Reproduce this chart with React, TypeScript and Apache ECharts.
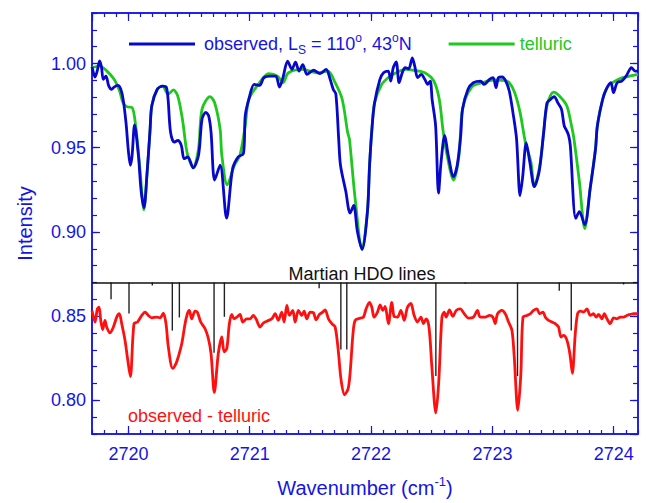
import React, { useEffect, useRef } from "react";
import * as echarts from "echarts";

// Wavenumber (cm-1), intensity
const observed: number[][] = [
  [2719.7, 0.998], [2719.725, 0.992], [2719.741, 0.995], [2719.763, 1.0015], [2719.778, 0.998], [2719.793, 0.9906],
  [2719.815, 0.9925], [2719.838, 0.9867], [2719.862, 0.9847], [2719.882, 0.986], [2719.912, 0.987], [2719.936, 0.985],
  [2719.956, 0.979], [2719.98, 0.965], [2720.0, 0.948], [2720.016, 0.9396], [2720.03, 0.945], [2720.051, 0.9635],
  [2720.083, 0.945], [2720.104, 0.925], [2720.128, 0.9145], [2720.154, 0.935], [2720.178, 0.96], [2720.193, 0.975],
  [2720.238, 0.9847], [2720.282, 0.9866], [2720.312, 0.986], [2720.327, 0.9788], [2720.347, 0.9594], [2720.377, 0.9533],
  [2720.407, 0.9543], [2720.436, 0.9514], [2720.459, 0.9435], [2720.489, 0.9445], [2720.534, 0.938], [2720.578, 0.9455],
  [2720.607, 0.967], [2720.638, 0.971], [2720.661, 0.969], [2720.681, 0.9594], [2720.711, 0.9308], [2720.756, 0.9396],
  [2720.809, 0.9082], [2720.859, 0.9376], [2720.904, 0.9445], [2720.948, 0.9465], [2720.963, 0.969], [2720.993, 0.9788],
  [2721.037, 0.9876], [2721.081, 0.987], [2721.117, 0.9916], [2721.17, 0.9925], [2721.215, 0.9925], [2721.245, 0.986],
  [2721.274, 0.9916], [2721.312, 1.0014], [2721.348, 0.9965], [2721.377, 1.0008], [2721.407, 0.9955], [2721.437, 0.9994],
  [2721.472, 0.9935], [2721.526, 0.996], [2721.579, 0.994], [2721.63, 0.9965], [2721.659, 0.9916], [2721.688, 0.9847],
  [2721.71, 0.9818], [2721.733, 0.9553], [2721.748, 0.9396], [2721.792, 0.924], [2721.827, 0.9112], [2721.857, 0.9157],
  [2721.887, 0.9004], [2721.926, 0.8896], [2721.97, 0.912], [2721.988, 0.94], [2722.009, 0.963], [2722.029, 0.9767],
  [2722.073, 0.9906], [2722.103, 0.9945], [2722.142, 0.9955], [2722.162, 0.9896], [2722.183, 0.9975], [2722.207, 1.001],
  [2722.231, 0.9886], [2722.257, 0.9945], [2722.281, 0.9975], [2722.31, 0.9969], [2722.34, 1.0034], [2722.36, 0.9984],
  [2722.384, 0.9916], [2722.414, 0.9935], [2722.443, 0.9906], [2722.467, 0.9876], [2722.488, 0.9896], [2722.503, 0.9788],
  [2722.532, 0.963], [2722.556, 0.923], [2722.577, 0.9416], [2722.607, 0.9573], [2722.636, 0.9455], [2722.68, 0.9328],
  [2722.71, 0.9396], [2722.739, 0.9573], [2722.754, 0.973], [2722.799, 0.9847], [2722.843, 0.9886], [2722.903, 0.9896],
  [2722.932, 0.9876], [2722.976, 0.9906], [2723.006, 0.9916], [2723.03, 0.9857], [2723.05, 0.9916], [2723.08, 0.992],
  [2723.11, 0.9896], [2723.139, 0.9837], [2723.169, 0.971], [2723.199, 0.9553], [2723.228, 0.9216], [2723.249, 0.9323],
  [2723.279, 0.9529], [2723.308, 0.9416], [2723.346, 0.9269], [2723.385, 0.9357], [2723.421, 0.958], [2723.45, 0.9767],
  [2723.48, 0.9788], [2723.51, 0.9804], [2723.539, 0.9767], [2723.569, 0.9729], [2723.592, 0.963], [2723.613, 0.96],
  [2723.628, 0.9573], [2723.642, 0.9514], [2723.687, 0.908], [2723.717, 0.912], [2723.761, 0.9043], [2723.806, 0.9259],
  [2723.85, 0.9494], [2723.865, 0.963], [2723.909, 0.9788], [2723.938, 0.9847], [2723.977, 0.9886], [2723.998, 0.9827],
  [2724.028, 0.9886], [2724.066, 0.9896], [2724.102, 0.9925], [2724.146, 0.9975], [2724.176, 0.9955], [2724.2, 0.9955],
];

const telluric: number[][] = [
  [2719.7, 0.9975], [2719.763, 0.9984], [2719.823, 0.9955], [2719.882, 0.9906], [2719.927, 0.9837], [2719.956, 0.9767],
  [2719.986, 0.9744], [2720.031, 0.9738], [2720.06, 0.963], [2720.092, 0.94], [2720.128, 0.9131], [2720.154, 0.935],
  [2720.178, 0.96], [2720.193, 0.975], [2720.238, 0.9847], [2720.282, 0.9866], [2720.327, 0.9818], [2720.371, 0.9843],
  [2720.407, 0.9806], [2720.445, 0.967], [2720.474, 0.951], [2720.489, 0.9455], [2720.534, 0.938], [2720.578, 0.9494],
  [2720.607, 0.9729], [2720.673, 0.9804], [2720.711, 0.9767], [2720.756, 0.961], [2720.77, 0.9455], [2720.815, 0.928],
  [2720.874, 0.9396], [2720.919, 0.9455], [2720.963, 0.963], [2720.993, 0.9788], [2721.081, 0.9886], [2721.155, 0.994],
  [2721.23, 0.9925], [2721.274, 0.9886], [2721.319, 0.9945], [2721.437, 0.9965], [2721.555, 0.9945], [2721.644, 0.9955],
  [2721.704, 0.9886], [2721.762, 0.9788], [2721.807, 0.959], [2721.822, 0.955], [2721.866, 0.9216], [2721.926, 0.8896],
  [2721.97, 0.912], [2721.988, 0.94], [2722.009, 0.963], [2722.029, 0.9767], [2722.088, 0.9876], [2722.148, 0.992],
  [2722.207, 0.9945], [2722.281, 0.9965], [2722.354, 0.996], [2722.443, 0.9945], [2722.517, 0.9896], [2722.562, 0.9788],
  [2722.592, 0.961], [2722.621, 0.9475], [2722.68, 0.9308], [2722.725, 0.9455], [2722.754, 0.973], [2722.829, 0.986],
  [2722.918, 0.9886], [2723.006, 0.9902], [2723.095, 0.99], [2723.139, 0.9886], [2723.184, 0.9827], [2723.228, 0.971],
  [2723.272, 0.9532], [2723.317, 0.9416], [2723.346, 0.9269], [2723.391, 0.9396], [2723.421, 0.958], [2723.45, 0.9749],
  [2723.504, 0.983], [2723.554, 0.9806], [2723.613, 0.9749], [2723.652, 0.963], [2723.672, 0.9553], [2723.717, 0.9298],
  [2723.761, 0.902], [2723.806, 0.9259], [2723.85, 0.9494], [2723.865, 0.963], [2723.909, 0.9788], [2723.953, 0.9866],
  [2724.013, 0.9896], [2724.072, 0.9916], [2724.129, 0.9925], [2724.2, 0.9935],
];

const residual: number[][] = [
  [2719.7, 0.8534], [2719.725, 0.8465], [2719.744, 0.8543], [2719.758, 0.8553], [2719.772, 0.8475], [2719.788, 0.842],
  [2719.807, 0.8475], [2719.821, 0.8435], [2719.848, 0.84], [2719.876, 0.8435], [2719.904, 0.8494], [2719.925, 0.8514],
  [2719.945, 0.8455], [2719.972, 0.8357], [2719.991, 0.8259], [2720.016, 0.8141], [2720.046, 0.8455], [2720.075, 0.8465],
  [2720.11, 0.8504], [2720.137, 0.8524], [2720.164, 0.8504], [2720.192, 0.849], [2720.234, 0.8494], [2720.261, 0.849],
  [2720.288, 0.8518], [2720.31, 0.8455], [2720.329, 0.8318], [2720.365, 0.819], [2720.393, 0.822], [2720.412, 0.826],
  [2720.44, 0.8337], [2720.467, 0.8455], [2720.486, 0.8514], [2720.502, 0.8534], [2720.522, 0.8484], [2720.549, 0.853],
  [2720.568, 0.8524], [2720.596, 0.8465], [2720.632, 0.8425], [2720.659, 0.8367], [2720.681, 0.8278], [2720.708, 0.8047],
  [2720.741, 0.8278], [2720.77, 0.8376], [2720.789, 0.8288], [2720.811, 0.8308], [2720.832, 0.8455], [2720.852, 0.851],
  [2720.871, 0.8484], [2720.893, 0.8494], [2720.92, 0.851], [2720.943, 0.8465], [2720.976, 0.8484], [2721.003, 0.8484],
  [2721.03, 0.8504], [2721.052, 0.8484], [2721.085, 0.8435], [2721.113, 0.8459], [2721.141, 0.847], [2721.182, 0.8484],
  [2721.209, 0.8514], [2721.236, 0.8475], [2721.264, 0.8524], [2721.283, 0.8465], [2721.306, 0.8563], [2721.327, 0.8504],
  [2721.355, 0.8534], [2721.374, 0.8465], [2721.401, 0.8534], [2721.429, 0.8504], [2721.448, 0.853], [2721.47, 0.8484],
  [2721.498, 0.8524], [2721.525, 0.852], [2721.547, 0.8478], [2721.574, 0.851], [2721.602, 0.8524], [2721.621, 0.8537],
  [2721.649, 0.8484], [2721.677, 0.8455], [2721.704, 0.8435], [2721.729, 0.83], [2721.753, 0.812], [2721.782, 0.8033],
  [2721.811, 0.807], [2721.827, 0.816], [2721.851, 0.8396], [2721.869, 0.8475], [2721.91, 0.8488], [2721.937, 0.8494],
  [2721.959, 0.8543], [2721.987, 0.8582], [2722.006, 0.8553], [2722.025, 0.8494], [2722.053, 0.8524], [2722.075, 0.8567],
  [2722.097, 0.8534], [2722.116, 0.8557], [2722.143, 0.8455], [2722.171, 0.8582], [2722.19, 0.8498], [2722.218, 0.8494],
  [2722.246, 0.8534], [2722.273, 0.8475], [2722.3, 0.8553], [2722.328, 0.8576], [2722.355, 0.8504], [2722.383, 0.8465],
  [2722.411, 0.8494], [2722.432, 0.8455], [2722.454, 0.8484], [2722.473, 0.8455], [2722.487, 0.8357], [2722.501, 0.82],
  [2722.534, 0.7925], [2722.557, 0.81], [2722.584, 0.8494], [2722.603, 0.8524], [2722.619, 0.8494], [2722.646, 0.8537],
  [2722.674, 0.8498], [2722.702, 0.8534], [2722.735, 0.8543], [2722.768, 0.8514], [2722.803, 0.8488], [2722.844, 0.8494],
  [2722.877, 0.8534], [2722.899, 0.8494], [2722.941, 0.8494], [2722.976, 0.8504], [2723.004, 0.8494], [2723.023, 0.8455],
  [2723.042, 0.8514], [2723.078, 0.8534], [2723.106, 0.8514], [2723.133, 0.8465], [2723.161, 0.8416], [2723.18, 0.8259],
  [2723.209, 0.7941], [2723.234, 0.815], [2723.252, 0.8494], [2723.285, 0.8504], [2723.312, 0.8514], [2723.339, 0.8534],
  [2723.367, 0.8543], [2723.389, 0.8514], [2723.417, 0.8524], [2723.436, 0.8494], [2723.463, 0.8475], [2723.491, 0.8465],
  [2723.518, 0.8455], [2723.545, 0.8435], [2723.565, 0.8376], [2723.587, 0.8386], [2723.609, 0.8367], [2723.628, 0.8318],
  [2723.642, 0.8259], [2723.659, 0.816], [2723.683, 0.8396], [2723.702, 0.8514], [2723.724, 0.853], [2723.751, 0.8524],
  [2723.779, 0.8543], [2723.807, 0.8504], [2723.834, 0.8514], [2723.856, 0.8494], [2723.875, 0.851], [2723.903, 0.8484],
  [2723.922, 0.8514], [2723.944, 0.8484], [2723.971, 0.8455], [2723.999, 0.849], [2724.027, 0.8484], [2724.054, 0.8494],
  [2724.081, 0.8494], [2724.109, 0.8504], [2724.137, 0.851], [2724.164, 0.8514], [2724.2, 0.8514],
];

// Martian HDO line positions and the depth of their markers
const hdoLines: number[][] = [
  [2719.857, 0.86], [2720.005, 0.8516], [2720.197, 0.8682], [2720.362, 0.8414], [2720.42, 0.8492],
  [2720.706, 0.8282], [2720.791, 0.8496], [2721.572, 0.8665], [2721.751, 0.8302], [2721.8, 0.8302],
  [2722.534, 0.8144], [2722.776, 0.8692], [2723.207, 0.8144], [2723.551, 0.865], [2723.65, 0.8414],
  [2724.081, 0.8688],
];
const HDO_BASE = 0.87;

const X_MIN = 2719.7;
const X_MAX = 2724.2;
const Y_MIN = 0.78;
const Y_MAX = 1.03;

const AXIS_BLUE = "#1414e6";
const CURVE_BLUE = "#0808cc";
const GREEN = "#1ec81e";
const RED = "#ff1010";
const FONT = "Liberation Sans";

export default function App() {
  const ref = useRef<HTMLDivElement>(null);
  useEffect(() => {
    if (!ref.current) return;
    const chart = echarts.init(ref.current, undefined, { renderer: "svg" });
    const axisLine = { show: true, lineStyle: { color: AXIS_BLUE, width: 1.5 } };
    const minorX = {
      type: "value", min: X_MIN, max: X_MAX, interval: 0.1,
      axisLine, splitLine: { show: false },
      axisTick: { inside: true, length: 4, lineStyle: { color: AXIS_BLUE, width: 1.2 } },
      axisLabel: { show: false },
    };
    const majorX = {
      type: "value", min: X_MIN, max: X_MAX, splitNumber: 5,
      axisLine, splitLine: { show: false },
      axisTick: { inside: true, length: 8, lineStyle: { color: AXIS_BLUE, width: 1.2 } },
    };
    const minorY = {
      type: "value", min: Y_MIN, max: Y_MAX, interval: 0.01,
      axisLine, splitLine: { show: false },
      axisTick: { inside: true, length: 5, lineStyle: { color: AXIS_BLUE, width: 1.2 } },
      axisLabel: { show: false },
    };
    const majorY = {
      type: "value", min: Y_MIN, max: Y_MAX, splitNumber: 5,
      axisLine, splitLine: { show: false },
      axisTick: { inside: true, length: 8, lineStyle: { color: AXIS_BLUE, width: 1.2 } },
    };
    const isMult = (v: number, step: number) => Math.abs(v / step - Math.round(v / step)) < 1e-6;

    chart.setOption({
      animation: false,
      textStyle: { fontFamily: FONT },
      grid: { left: 92, right: 8, top: 13, bottom: 65, containLabel: false },
      legend: {
        left: 129, top: 32, padding: 0, itemGap: 37, itemWidth: 66, itemHeight: 3,
        icon: "rect",
        selectedMode: false,
        data: [
          { name: "observed", textStyle: { color: AXIS_BLUE } },
          { name: "telluric", textStyle: { color: GREEN } },
        ],
        formatter: (name: string) =>
          name === "observed"
            ? "{f|observed, L}{sub|S}{n| = 110}{sup|o}{n|, 43}{sup|o}{n|N}"
            : name,
        textStyle: {
          fontFamily: FONT, fontSize: 18,
          rich: {
            f: { fontFamily: FONT, fontSize: 18, lineHeight: 24, color: AXIS_BLUE, padding: [0, 0, 0, 4] },
            n: { fontFamily: FONT, fontSize: 18, lineHeight: 24, color: AXIS_BLUE },
            sub: { fontFamily: FONT, fontSize: 12, lineHeight: 12, verticalAlign: "bottom", color: AXIS_BLUE },
            sup: { fontFamily: FONT, fontSize: 12, lineHeight: 12, verticalAlign: "top", color: AXIS_BLUE },
          },
        },
      },
      xAxis: [
        { ...minorX, position: "bottom" },
        {
          ...majorX, position: "bottom",
          name: "{n|Wavenumber (cm}{sup|-1}{n|)}",
          nameLocation: "middle", nameGap: 41,
          nameTextStyle: {
            rich: {
              n: { fontFamily: FONT, fontSize: 20, lineHeight: 26, color: AXIS_BLUE },
              sup: { fontFamily: FONT, fontSize: 13, lineHeight: 13, verticalAlign: "top", color: AXIS_BLUE },
            },
          },
          axisLabel: {
            show: true, margin: 11, color: AXIS_BLUE, fontSize: 18, fontFamily: FONT,
            showMinLabel: false, showMaxLabel: false,
            formatter: (v: number) => (isMult(v, 1) ? String(Math.round(v)) : ""),
          },
        },
        { ...minorX, position: "top" },
        { ...majorX, position: "top", axisLabel: { show: false } },
      ],
      yAxis: [
        { ...minorY, position: "left" },
        {
          ...majorY, position: "left",
          name: "Intensity", nameLocation: "middle", nameGap: 57,
          nameTextStyle: { color: AXIS_BLUE, fontSize: 20, fontFamily: FONT },
          axisLabel: {
            show: true, margin: 6, color: AXIS_BLUE, fontSize: 18, fontFamily: FONT,
            showMinLabel: false, showMaxLabel: false,
            formatter: (v: number) => (isMult(v, 0.05) ? v.toFixed(2) : ""),
          },
        },
        { ...minorY, position: "right" },
        { ...majorY, position: "right", axisLabel: { show: false } },
      ],
      series: [
        {
          type: "custom", name: "HDO", xAxisIndex: 0, yAxisIndex: 0, z: 1,
          data: hdoLines,
          renderItem: (params: any, api: any) => {
            const x = api.value(0);
            const d = api.value(1);
            const p0 = api.coord([x, HDO_BASE]);
            const p1 = api.coord([x, d]);
            return {
              type: "line",
              shape: { x1: p0[0], y1: p0[1], x2: p1[0], y2: p1[1] },
              style: { stroke: "#222", lineWidth: 1.4 },
            };
          },
          markLine: {
            silent: true, symbol: ["none", "none"], label: { show: false },
            lineStyle: { color: "#111", width: 1.5, type: "solid" },
            data: [{ yAxis: HDO_BASE }],
          },
        },
        {
          type: "line", name: "residual", xAxisIndex: 0, yAxisIndex: 0, z: 3,
          data: residual, symbol: "none", showSymbol: false, smooth: 0.3,
          lineStyle: { color: RED, width: 2.8 }, itemStyle: { color: RED },
        },
        {
          type: "line", name: "telluric", xAxisIndex: 0, yAxisIndex: 0, z: 3,
          data: telluric, symbol: "none", showSymbol: false, smooth: 0.3,
          lineStyle: { color: GREEN, width: 2.8 }, itemStyle: { color: GREEN },
        },
        {
          type: "line", name: "observed", xAxisIndex: 0, yAxisIndex: 0, z: 4,
          data: observed, symbol: "none", showSymbol: false, smooth: 0.3,
          lineStyle: { color: CURVE_BLUE, width: 2.8 }, itemStyle: { color: CURVE_BLUE },
        },
      ],
      graphic: [
        {
          type: "text", x: 362, y: 274, z: 10,
          style: { text: "Martian HDO lines", fill: "#111", font: `18px "${FONT}"`, textAlign: "center", textVerticalAlign: "middle" },
        },
        {
          type: "text", x: 128, y: 415.5, z: 10,
          style: { text: "observed - telluric", fill: RED, font: `18px "${FONT}"`, textAlign: "left", textVerticalAlign: "middle" },
        },
      ],
    });
    return () => chart.dispose();
  }, []);
  return (
    <div
      ref={ref}
      style={{ position: "absolute", left: 0, top: 0, width: 646, height: 503 }}
    />
  );
}
